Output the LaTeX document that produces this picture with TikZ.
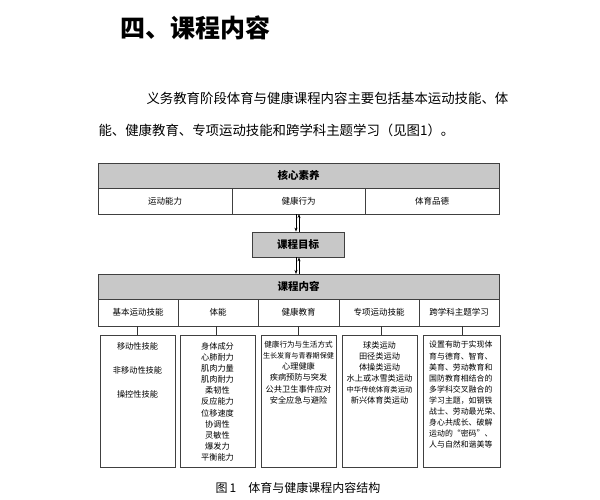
\documentclass[tikz,border=0pt]{standalone}
\usepackage{fontspec}
\newfontfamily\cjk{Noto Sans CJK SC}
\usetikzlibrary{arrows.meta}
\definecolor{hdr}{HTML}{C8C8C8}
\tikzset{x=1pt,y=-1pt,
 hd/.style={draw=black!75,line width=0.8pt,fill=hdr,font=\cjk\bfseries\fontsize{10.5}{12}\selectfont},
 hdt/.style={font=\cjk\bfseries\fontsize{10.5}{12}\selectfont},
 cell/.style={draw=black!75,line width=0.8pt,fill=white},
 ct/.style={font=\cjk\fontsize{8.5}{10}\selectfont},
 con/.style={draw=black!80,line width=0.7pt},
 arr/.style={draw=black,line width=0.8pt,-{Stealth[length=4pt,width=3pt]}}}
\begin{document}
\begin{tikzpicture}
\useasboundingbox[fill=white] (0,0) rectangle (600,499);
\node[font=\cjk\bfseries\fontsize{25}{27}\selectfont,anchor=west] (title) at (117,28) {四、课程内容};
\node[font=\cjk\fontsize{13.4}{15}\selectfont,anchor=west] (p1) at (143,98) {义务教育阶段体育与健康课程内容主要包括基本运动技能、体};
\node[font=\cjk\fontsize{13.4}{15}\selectfont,anchor=west] (p2) at (95,130) {能、健康教育、专项运动技能和跨学科主题学习（见图1）。};
% top
\draw[hd] (98,163) rectangle (499,188);
\node[hdt] (hx) at (298.5,175.5) {核心素养};
\draw[cell] (98,188) rectangle (232,214);
\draw[cell] (232,188) rectangle (365,214);
\draw[cell] (365,188) rectangle (499,214);
\node[ct] (a1) at (165,201) {运动能力};
\node[ct] (a2) at (298.5,201) {健康行为};
\node[ct] (a3) at (432,201) {体育品德};
% goal
\node[hd,minimum width=92pt,minimum height=25pt,inner sep=0pt] (goal) at (298,244.5) {课程目标};
\coordinate (t1) at (296,214); \coordinate (t2) at (299,214);
\coordinate (b1) at (296,274); \coordinate (b2) at (299,274);
\draw[arr] (t1) -- (goal.north -| t1);
\draw[arr] (goal.north -| t2) -- (t2);
\draw[arr] (goal.south -| t1) -- (b1);
\draw[arr] (b2) -- (goal.south -| t2);
% content
\draw[hd] (98,274) rectangle (499,299);
\node[hdt] (hc) at (298.5,286.5) {课程内容};
\foreach \l/\r/\t/\n in {98/178/基本运动技能/c1,178/258/体能/c2,258/339/健康教育/c3,339/419/专项运动技能/c4,419/499/跨学科主题学习/c5}{
 \draw[cell] (\l,299) rectangle (\r,326);
 \node[ct] (\n) at ({(\l+\r)/2},312.5) {\t};
}
\foreach \x/\l/\r in {137/100/175,216/180/255,298/261/336,381/342/417,462/423/500}{
 \draw[con] (\x,326) -- (\x,335);
 \draw[line width=0.8pt,draw=black!75] (\l,335) rectangle (\r,467);
}
\node[font=\cjk\fontsize{8.2}{24}\selectfont,align=center,anchor=north] (l1) at (137.5,339) {移动性技能\\非移动性技能\\操控性技能};
\node[font=\cjk\fontsize{8.2}{11.1}\selectfont,align=center,anchor=north] (l2) at (217.5,339) {身体成分\\心肺耐力\\肌肉力量\\肌肉耐力\\柔韧性\\反应能力\\位移速度\\协调性\\灵敏性\\爆发力\\平衡能力};
\node[font=\cjk\fontsize{8.2}{11.1}\selectfont,align=center,anchor=north,inner sep=1pt] (l3) at (298.5,340) {{\fontsize{7.6}{11.1}\selectfont 健康行为与生活方式}\\{\fontsize{7.1}{11.1}\selectfont 生长发育与青春期保健}\\心理健康\\疾病预防与突发\\公共卫生事件应对\\安全应急与避险};
\node[font=\cjk\fontsize{8.2}{11.1}\selectfont,align=center,anchor=north,inner sep=1pt] (l4) at (379.5,340) {球类运动\\田径类运动\\体操类运动\\水上或冰雪类运动\\{\fontsize{7.3}{11.1}\selectfont 中华传统体育类运动}\\新兴体育类运动};
\node[font=\cjk\fontsize{7.9}{11.1}\selectfont,align=left,anchor=north west,inner sep=1pt] (l5) at (428,340) {设置有助于实现体\\育与德育、智育、\\美育、劳动教育和\\国防教育相结合的\\多学科交叉融合的\\学习主题，如钢铁\\战士、劳动最光荣、\\身心共成长、破解\\运动的“密码”、\\人与自然和谐美等};
\node[font=\cjk\fontsize{12}{13}\selectfont] (cap) at (298,488) {图\,1\quad 体育与健康课程内容结构};
\end{tikzpicture}
\end{document}
